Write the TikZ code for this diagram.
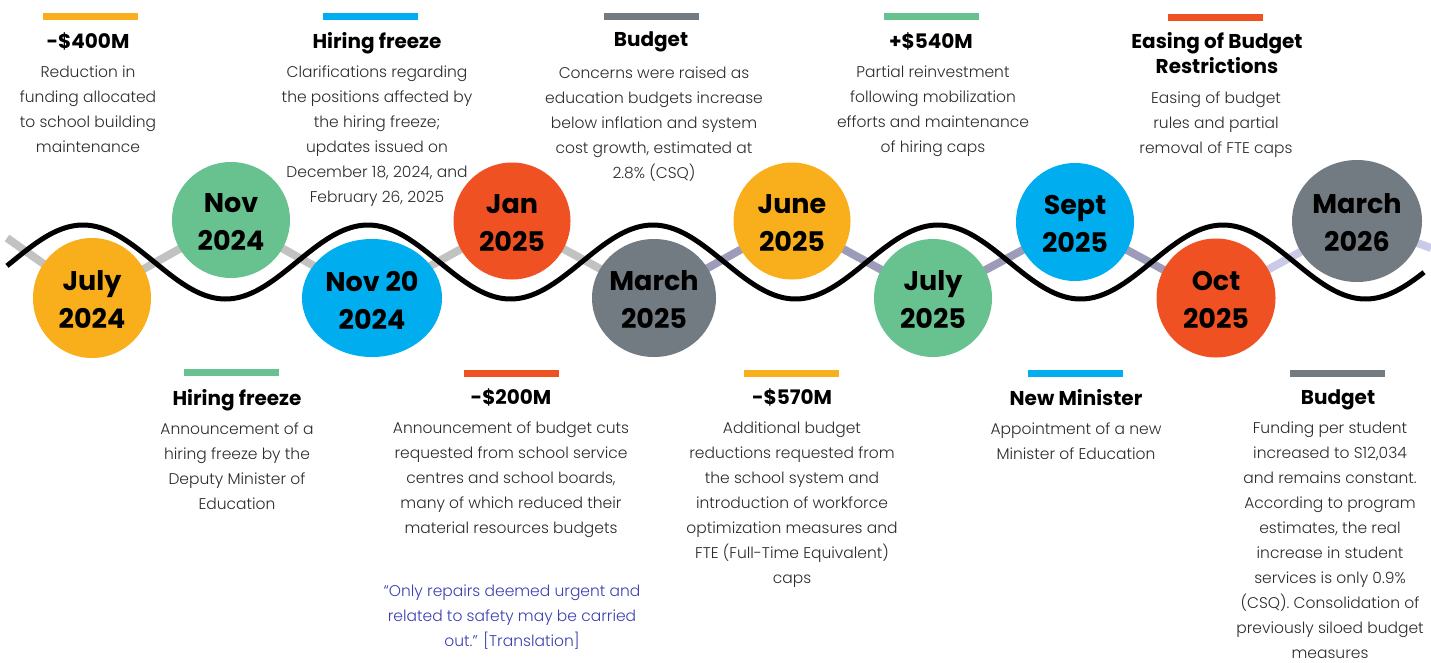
\documentclass[tikz,border=0pt]{standalone}
\usepackage{fontspec}
\usetikzlibrary{shapes.geometric,backgrounds}
\IfFontExistsTF{Poppins Light}{\newfontfamily\bodyf{Poppins Light}}{\newfontfamily\bodyf{Poppins}}
\newfontfamily\headf{Poppins}
\definecolor{cOr}{HTML}{F9AE1B}
\definecolor{cGr}{HTML}{67C28F}
\definecolor{cBl}{HTML}{00AEEF}
\definecolor{cRd}{HTML}{F05123}
\definecolor{cGy}{HTML}{737B82}
\definecolor{lnA}{HTML}{C2C2C2}
\definecolor{lnB}{HTML}{9C9CBA}
\definecolor{lnC}{HTML}{C9C9E8}
\definecolor{txt}{HTML}{2B2B2B}
\definecolor{quo}{HTML}{3B3FB0}
\tikzset{
  tbar/.style={fill=#1, draw=none, minimum width=95pt, minimum height=7pt, inner sep=0pt, anchor=north},
  ttl/.style={font=\headf\bfseries\fontsize{20}{25}\selectfont, align=center, inner sep=0pt, anchor=north},
  bod/.style={font=\bodyf\fontsize{15.5}{25}\selectfont, text=txt, align=center, inner sep=0pt, anchor=north},
  dot/.style={ellipse, inner sep=0pt, draw=none, fill=#1},
  dt/.style={font=\headf\bfseries\fontsize{27}{38}\selectfont, align=center, inner sep=0pt, yshift=-2pt},
  wave/.style={line width=5pt, black},
  link/.style={line width=8pt, #1}
}
\begin{document}
\begin{tikzpicture}[x=1pt,y=-1pt]
\useasboundingbox (0,0) rectangle (1431,662);
% circles
\node[dot=cOr, minimum width=118pt, minimum height=120pt, label={[dt]center:July\\2024}] (c1) at (92,298) {};
\node[dot=cGr, minimum width=118pt, minimum height=116pt, label={[dt]center:Nov\\2024}] (c2) at (231,220) {};
\node[dot=cBl, minimum width=140pt, minimum height=118pt, label={[dt]center:Nov 20\\2024}] (c3) at (372,298) {};
\node[dot=cRd, minimum width=117pt, minimum height=117pt, label={[dt]center:Jan\\2025}] (c4) at (512,221) {};
\node[dot=cGy, minimum width=124pt, minimum height=118pt, label={[dt]center:March\\2025}] (c5) at (654,298) {};
\node[dot=cOr, minimum width=117pt, minimum height=117pt, label={[dt]center:June\\2025}] (c6) at (792,221) {};
\node[dot=cGr, minimum width=118pt, minimum height=118pt, label={[dt]center:July\\2025}] (c7) at (933,298) {};
\node[dot=cBl, minimum width=118pt, minimum height=118pt, label={[dt]center:Sept\\2025}] (c8) at (1075,222) {};
\node[dot=cRd, minimum width=119pt, minimum height=119pt, label={[dt]center:Oct\\2025}] (c9) at (1216,298) {};
\node[dot=cGy, minimum width=130pt, minimum height=122pt, label={[dt]center:March\\2026}] (c10) at (1357,221) {};
\coordinate (lL) at (7,238);
\coordinate (lR) at (1431,248);
\begin{scope}[on background layer]
\draw[link=lnA] (lL) -- (c1.center) -- (c2.center) -- (c3.center) -- (c4.center) -- (c5.center);
\draw[link=lnB] (c5.center) -- (c6.center) -- (c7.center) -- (c8.center) -- (c9.center);
\draw[link=lnC] (c9.center) -- (c10.center) -- (lR);
\draw[wave] plot[domain=7:1424, samples=300, smooth] (\x,{262-37*cos(1.263158*(\x-83))});
\end{scope}
% top texts
\node[tbar=cOr] (b1) at (90,13) {};
\node[ttl] (t1) at (88,32) {-\$400M};
\node[bod] (d1) at (88,66) {Reduction in\\funding allocated\\to school building\\maintenance};
\node[tbar=cBl] (b2) at (370,13) {};
\node[ttl] (t2) at (377,32) {Hiring freeze};
\node[bod] (d2) at (377,66) {Clarifications regarding\\the positions affected by\\the hiring freeze;\\updates issued on\\December 18, 2024, and\\February 26, 2025};
\node[tbar=cGy] (b3) at (651,13) {};
\node[ttl] (t3) at (651,31) {Budget};
\node[bod] (d3) at (654,67) {Concerns were raised as\\education budgets increase\\below inflation and system\\cost growth, estimated at\\2.8\% (CSQ)};
\node[tbar=cGr] (b4) at (931,13) {};
\node[ttl] (t4) at (931,32) {+\$540M};
\node[bod] (d4) at (933,66) {Partial reinvestment\\following mobilization\\efforts and maintenance\\of hiring caps};
\node[tbar=cRd] (b5) at (1215,14) {};
\node[ttl] (t5) at (1217,32) {Easing of Budget\\Restrictions};
\node[bod] (d5) at (1216,92) {Easing of budget\\rules and partial\\removal of FTE caps};
% bottom texts
\node[tbar=cGr] (b6) at (231,369) {};
\node[ttl] (t6) at (237,389) {Hiring freeze};
\node[bod] (d6) at (237,423) {Announcement of a\\hiring freeze by the\\Deputy Minister of\\Education};
\node[tbar=cRd] (b7) at (511,370) {};
\node[ttl] (t7) at (511,388) {-\$200M};
\node[bod] (d7) at (511,422) {Announcement of budget cuts\\requested from school service\\centres and school boards,\\many of which reduced their\\material resources budgets};
\node[bod, text=quo] (q7) at (512,585) {“Only repairs deemed urgent and\\related to safety may be carried\\out.” [Translation]};
\node[tbar=cOr] (b8) at (791,370) {};
\node[ttl] (t8) at (792,388) {-\$570M};
\node[bod] (d8) at (792,422) {Additional budget\\reductions requested from\\the school system and\\introduction of workforce\\optimization measures and\\FTE (Full-Time Equivalent)\\caps};
\node[tbar=cBl] (b9) at (1075,370) {};
\node[ttl] (t9) at (1076,389) {New Minister};
\node[bod] (d9) at (1076,423) {Appointment of a new\\Minister of Education};
\node[tbar=cGy] (b10) at (1337,370) {};
\node[ttl] (t10) at (1338,389) {Budget};
\node[bod] (d10) at (1330,422) {Funding per student\\increased to S12,034\\and remains constant.\\According to program\\estimates, the real\\increase in student\\services is only 0.9\%\\(CSQ). Consolidation of\\previously siloed budget\\measures};
\end{tikzpicture}
\end{document}
